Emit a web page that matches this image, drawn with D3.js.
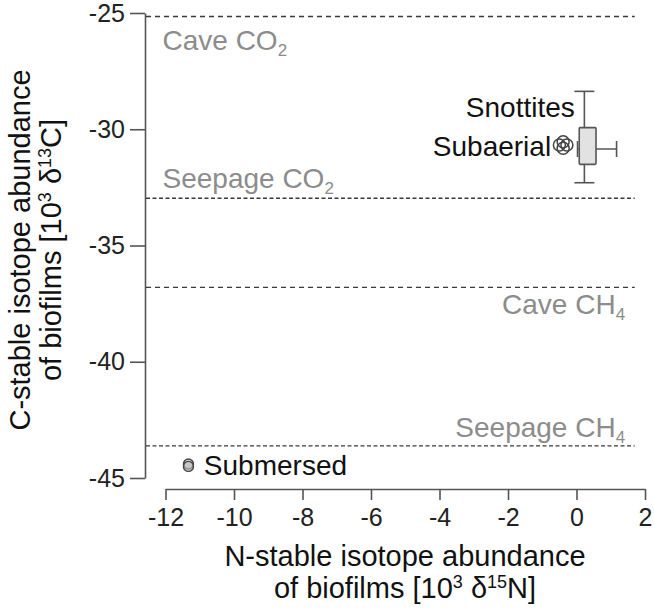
<!DOCTYPE html>
<html>
<head>
<meta charset="utf-8">
<script src="https://cdn.jsdelivr.net/npm/d3@7"></script>
<style>
  html, body { margin: 0; padding: 0; background: #fff; }
  svg { display: block; font-family: "Liberation Sans", Arial, Helvetica, sans-serif; }
</style>
</head>
<body>
<svg id="chart" width="654" height="608"></svg>
<script>
// ---- data ----
const xTicks = [-12, -10, -8, -6, -4, -2, 0, 2];
const yTicks = [-25, -30, -35, -40, -45];

// reference isotope values (dashed lines)
const refNames = ["Cave CO", "Seepage CO", "Cave CH", "Seepage CH"];
const refSubs = ["2", "2", "4", "4"];
const refValues = [-25.15, -32.97, -36.8, -43.62];

// Snottites: 2D box [min, q1, median, q3, max]
const snotN = [0.03, 0.08, 0.23, 0.57, 1.17];
const snotC = [-32.3, -31.51, -30.85, -29.93, -28.37];

// individual biofilm measurements
const subaerialN = [-0.5, -0.28, -0.39, -0.39];
const subaerialC = [-30.68, -30.68, -30.54, -30.82];
const submersedN = [-11.33, -11.33];
const submersedC = [-44.4, -44.5];

// ---- layout ----
const svg = d3.select("#chart");
const x = d3.scaleLinear().domain([-12, 2]).range([165.5, 645]);
const y = d3.scaleLinear().domain([-25, -45]).range([13, 478]);
const axisX = 145;   // y-axis line position
const axisY = 489;   // x-axis line position
const axisColor = "#555";

// y axis
const gy = svg.append("g").attr("transform", `translate(${axisX},0)`)
  .call(d3.axisLeft(y).tickValues(yTicks).tickSize(15).tickSizeOuter(0).tickPadding(5));
gy.select(".domain").attr("stroke", axisColor).attr("stroke-width", 1.6);
gy.selectAll(".tick line").attr("stroke", axisColor).attr("stroke-width", 1.6);
gy.selectAll(".tick text").attr("font-size", 25).attr("fill", "#222")
  .attr("font-family", "Liberation Sans, Arial, sans-serif").text(d => String(d));

// x axis
const gx = svg.append("g").attr("transform", `translate(0,${axisY})`)
  .call(d3.axisBottom(x).tickValues(xTicks).tickSize(11).tickSizeOuter(0).tickPadding(8));
gx.select(".domain").attr("stroke", axisColor).attr("stroke-width", 1.6);
gx.selectAll(".tick line").attr("stroke", axisColor).attr("stroke-width", 1.6);
gx.selectAll(".tick text").attr("font-size", 25).attr("fill", "#222")
  .attr("font-family", "Liberation Sans, Arial, sans-serif").text(d => String(d));

// reference lines
const dashes = ["5,4", "4,2.5", "5,4", "4,2.5"];
svg.append("g").selectAll("line").data(refValues).join("line")
  .attr("x1", axisX + 1).attr("x2", x(1.7))
  .attr("y1", d => y(d)).attr("y2", d => y(d))
  .attr("stroke", "#3a3a3a").attr("stroke-width", 1.4)
  .attr("stroke-dasharray", (d, i) => dashes[i]);

// reference labels
const refLabelAnchor = ["start", "start", "end", "end"];
const refLabelDy = [34, -10, 27, -9];
const refLabels = svg.append("g").selectAll("text").data(refValues).join("text")
  .attr("x", (d, i) => refLabelAnchor[i] === "start" ? x(-12) - 3 : x(1.42))
  .attr("y", (d, i) => y(d) + refLabelDy[i])
  .attr("text-anchor", (d, i) => refLabelAnchor[i])
  .attr("font-size", 28).attr("fill", "#8c8c8c");
refLabels.append("tspan").text((d, i) => refNames[i]);
refLabels.append("tspan").attr("font-size", 17).attr("dy", 6).text((d, i) => refSubs[i]);

// Snottites box
const g = svg.append("g").attr("stroke", "#555").attr("stroke-width", 1.6);
const capHalf = 10;
// vertical whisker at median N
g.append("line").attr("x1", x(snotN[2])).attr("x2", x(snotN[2]))
  .attr("y1", y(snotC[0])).attr("y2", y(snotC[4]));
g.append("line").attr("x1", x(snotN[2]) - capHalf).attr("x2", x(snotN[2]) + capHalf)
  .attr("y1", y(snotC[4])).attr("y2", y(snotC[4]));
g.append("line").attr("x1", x(snotN[2]) - capHalf).attr("x2", x(snotN[2]) + capHalf)
  .attr("y1", y(snotC[0])).attr("y2", y(snotC[0]));
// horizontal whisker at median C
g.append("line").attr("x1", x(snotN[0])).attr("x2", x(snotN[4]))
  .attr("y1", y(snotC[2])).attr("y2", y(snotC[2]));
g.append("line").attr("x1", x(snotN[4])).attr("x2", x(snotN[4]))
  .attr("y1", y(snotC[2]) - 8).attr("y2", y(snotC[2]) + 8);
g.append("line").attr("x1", x(snotN[0])).attr("x2", x(snotN[0]))
  .attr("y1", y(snotC[2]) - 8).attr("y2", y(snotC[2]) + 8);
// box
g.append("rect").attr("x", x(snotN[1])).attr("y", y(snotC[3]))
  .attr("width", x(snotN[3]) - x(snotN[1])).attr("height", y(snotC[1]) - y(snotC[3]))
  .attr("fill", "#e2e2e2").attr("rx", 1);

// points
svg.append("g").selectAll("circle").data(subaerialN).join("circle")
  .attr("cx", d => x(d)).attr("cy", (d, i) => y(subaerialC[i])).attr("r", 6)
  .attr("fill", "none").attr("stroke", "#444").attr("stroke-width", 1.5);
svg.append("g").selectAll("circle").data(submersedN).join("circle")
  .attr("cx", d => x(d)).attr("cy", (d, i) => y(submersedC[i])).attr("r", 5)
  .attr("fill", "#bbb").attr("fill-opacity", 0.6).attr("stroke", "#444").attr("stroke-width", 1.4);

// group labels
svg.append("text").attr("x", x(-0.05)).attr("y", y(snotC[3]) - 11).attr("text-anchor", "end")
  .attr("font-size", 28).attr("fill", "#111").text("Snottites");
svg.append("text").attr("x", x(-0.74)).attr("y", y(subaerialC[0]) + 11).attr("text-anchor", "end")
  .attr("font-size", 28).attr("fill", "#111").text("Subaerial");
svg.append("text").attr("x", x(-10.88)).attr("y", y(submersedC[0]) + 11).attr("text-anchor", "start")
  .attr("font-size", 28).attr("fill", "#111").text("Submersed");

// x axis title
svg.append("text").attr("text-anchor", "middle").attr("font-size", 29).attr("fill", "#111")
  .attr("x", 405).attr("y", 566).text("N-stable isotope abundance");
const xt2 = svg.append("text").attr("text-anchor", "middle").attr("font-size", 29).attr("fill", "#111")
  .attr("x", 405).attr("y", 598);
xt2.append("tspan").text("of biofilms [10");
xt2.append("tspan").attr("font-size", 18).attr("dy", -10).text("3");
xt2.append("tspan").attr("dy", 10).text(" δ");
xt2.append("tspan").attr("font-size", 18).attr("dy", -10).text("15");
xt2.append("tspan").attr("dy", 10).text("N]");

// y axis title
const yt = svg.append("g").attr("transform", "translate(0,250) rotate(-90)");
yt.append("text").attr("text-anchor", "middle").attr("x", 0).attr("y", 30)
  .attr("font-size", 29).attr("fill", "#111").text("C-stable isotope abundance");
const yt2 = yt.append("text").attr("text-anchor", "middle").attr("x", 0).attr("y", 61)
  .attr("font-size", 29).attr("fill", "#111");
yt2.append("tspan").text("of biofilms [10");
yt2.append("tspan").attr("font-size", 18).attr("dy", -10).text("3");
yt2.append("tspan").attr("dy", 10).text(" δ");
yt2.append("tspan").attr("font-size", 18).attr("dy", -10).text("13");
yt2.append("tspan").attr("dy", 10).text("C]");
</script>
</body>
</html>
